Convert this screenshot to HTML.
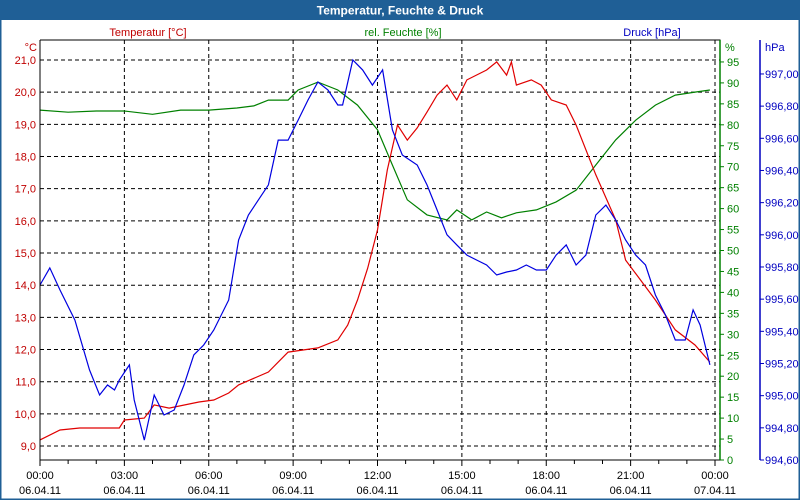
<!DOCTYPE html>
<html><head><meta charset="utf-8"><style>
body{margin:0;background:#fff;}
svg{display:block;font-family:"Liberation Sans","DejaVu Sans",sans-serif;}
</style></head><body>
<svg id="c" width="800" height="500">
<rect x="0" y="0" width="800" height="500" fill="#fff"/>
<rect x="0.5" y="0.5" width="799" height="499" fill="none" stroke="#1f5f96" stroke-width="2"/>
<rect x="0" y="0" width="800" height="20" fill="#1f5f96"/>
<text x="400" y="14.5" text-anchor="middle" fill="#fff" font-size="12" font-weight="bold">Temperatur, Feuchte &amp; Druck</text>
<text x="148" y="36" text-anchor="middle" fill="#c00000" font-size="11">Temperatur [°C]</text>
<text x="403" y="36" text-anchor="middle" fill="#008000" font-size="11">rel. Feuchte [%]</text>
<text x="652" y="36" text-anchor="middle" fill="#0000c0" font-size="11">Druck [hPa]</text>
<text x="37" y="51" text-anchor="end" fill="#c00000" font-size="11">°C</text>
<text x="725" y="51" fill="#008000" font-size="11">%</text>
<text x="765" y="51" fill="#0000c0" font-size="11">hPa</text>
<g id="grid"></g><g id="series"></g><g id="axes"></g>
</svg>
<script>
const xTickHours=[0,3,6,9,12,15,18,21,24];
const xTickTimes=["00:00","03:00","06:00","09:00","12:00","15:00","18:00","21:00","00:00"];
const xTickDates=["06.04.11","06.04.11","06.04.11","06.04.11","06.04.11","06.04.11","06.04.11","06.04.11","07.04.11"];
const tempTicks=[9,10,11,12,13,14,15,16,17,18,19,20,21];
const humTicks=[0,5,10,15,20,25,30,35,40,45,50,55,60,65,70,75,80,85,90,95];
const pressTicks=[994.6,994.8,995.0,995.2,995.4,995.6,995.8,996.0,996.2,996.4,996.6,996.8,997.0];
const tempHours=[0,0.71,1.41,2.82,3.0,3.71,4.06,4.59,5.65,6.18,6.71,7.06,8.12,8.82,9.88,10.59,10.94,11.29,11.65,12.0,12.35,12.71,13.06,13.41,13.76,14.12,14.47,14.82,15.18,15.88,16.24,16.59,16.76,16.94,17.47,17.82,18.18,18.71,19.06,19.76,20.47,20.82,21.35,21.88,22.59,23.29,23.82];
const tempValues=[9.19,9.5,9.56,9.56,9.81,9.87,10.28,10.18,10.37,10.43,10.65,10.9,11.3,11.92,12.05,12.3,12.76,13.54,14.53,15.72,17.58,18.98,18.51,18.89,19.38,19.91,20.22,19.76,20.38,20.69,20.94,20.53,20.94,20.22,20.38,20.22,19.76,19.6,18.98,17.43,16.03,14.78,14.16,13.54,12.61,12.14,11.61];
const humHours=[0,1,2,3,4,5,6,7,7.6,8.12,8.82,9.18,9.88,10.59,11.29,12.0,12.53,13.06,13.76,14.47,14.82,15.35,15.88,16.41,16.94,17.65,18.35,19.06,19.76,20.47,21.18,21.88,22.59,23.29,23.82];
const humValues=[83.5,83,83.3,83.3,82.5,83.5,83.5,84,84.5,85.9,85.9,88.3,90.2,88.3,84.7,78.8,70.4,62.1,58.5,57.3,59.7,57.3,59.2,57.8,59,59.7,61.6,64.4,70.4,76.4,81.1,84.7,87.1,87.8,88.3];
const pressHours=[0,0.35,0.71,1.24,1.76,2.12,2.4,2.65,2.82,3.18,3.35,3.71,4.06,4.41,4.77,5.12,5.47,5.82,6.18,6.71,7.06,7.41,7.76,8.12,8.47,8.82,9.18,9.53,9.88,10.24,10.59,10.76,11.12,11.47,11.82,12.18,12.53,12.88,13.41,13.76,14.12,14.47,14.82,15.18,15.53,15.88,16.24,16.59,16.94,17.29,17.65,18.0,18.35,18.71,19.06,19.41,19.76,20.12,20.47,20.82,21.18,21.53,21.88,22.24,22.59,22.94,23.22,23.47,23.82];
const pressValues=[995.688,995.794,995.657,995.47,995.16,995.004,995.066,995.035,995.097,995.191,994.973,994.724,995.004,994.88,994.911,995.066,995.253,995.315,995.408,995.595,995.968,996.123,996.216,996.31,996.589,996.589,996.714,996.838,996.95,996.9,996.807,996.807,997.087,997.025,996.931,997.025,996.652,996.496,996.434,996.31,996.154,996.0,995.937,995.874,995.843,995.812,995.75,995.769,995.781,995.812,995.781,995.781,995.874,995.937,995.812,995.874,996.123,996.185,996.092,995.968,995.874,995.812,995.626,995.501,995.346,995.346,995.533,995.439,995.191];

const L=40,R=720,T=40,B=460;
const xS=h=>40+h*(675/24);
const tS=v=>60+(21-v)*32.17;
const hS=v=>460-v*4.19;
const pS=v=>460-(v-994.6)*160.85;
const NS="http://www.w3.org/2000/svg";
function mk(tag,attrs,parent,txt){const e=document.createElementNS(NS,tag);for(const k in attrs)e.setAttribute(k,attrs[k]);if(txt!==undefined)e.textContent=txt;parent.appendChild(e);return e;}
const grid=document.getElementById('grid'),series=document.getElementById('series'),axes=document.getElementById('axes');
const fmt=(v,d)=>v.toFixed(d).replace('.',',');

xTickHours.forEach((h,i)=>{
  const x=xS(h);
  if(h>0){const g=mk('line',{x1:x,y1:T,x2:x,y2:B,stroke:'#000','stroke-dasharray':'4,3'},grid);
  
  }
  const t1=mk('text',{x:x,y:479,'text-anchor':'middle','font-size':11,fill:'#000'},axes,xTickTimes[i]);
  
  
  const t2=mk('text',{x:x,y:494,'text-anchor':'middle','font-size':11,fill:'#000'},axes,xTickDates[i]);
  
  
});
for(let h=0;h<=24;h++){const x=xS(h);const tk=mk('line',{x1:x,y1:B,x2:x,y2:B+(h%3==0?6:4),stroke:'#000'},axes);
  
  }
tempTicks.forEach(v=>{
  const y=tS(v);
  const g=mk('line',{x1:L,y1:y,x2:R,y2:y,stroke:'#000','stroke-dasharray':'4,3'},grid);
  
  
  const t=mk('text',{x:36,y:y+4,'text-anchor':'end','font-size':11,fill:'#c00000'},axes,fmt(v,1));
  
  
});
humTicks.forEach(v=>{
  const y=hS(v);
  const tk=mk('line',{x1:R,y1:y,x2:R+4,y2:y,stroke:'#008000'},axes);
  
  
  const t=mk('text',{x:R+7,y:y+4,'font-size':11,fill:'#008000'},axes,String(v));
  
  
});
pressTicks.forEach(v=>{
  const y=pS(v);
  const tk=mk('line',{x1:760,y1:y,x2:764,y2:y,stroke:'#0000c0'},axes);
  
  
  const t=mk('text',{x:765,y:y+4,'font-size':11,fill:'#0000c0'},axes,fmt(v,2));
  
  
});
function line(hours,vals,sc,color,name){
  const d=hours.map((h,i)=>(i?'L':'M')+xS(h).toFixed(1)+','+sc(vals[i]).toFixed(1)).join('');
  const p=mk('path',{d:d,fill:'none',stroke:color,'stroke-width':1.2},series);
  
  
}
line(humHours,humValues,hS,'#008000','humidity-line');
line(tempHours,tempValues,tS,'#e00000','temperature-line');
line(pressHours,pressValues,pS,'#0000e0','pressure-line');
const a1=mk('polyline',{points:`${L},${T} ${L},${B} ${R},${B} ${R},${T} ${L},${T}`,fill:'none',stroke:'#000'},axes);


const a2=mk('line',{x1:R,y1:T,x2:R,y2:B,stroke:'#008000','stroke-width':1.5},axes);


const a3=mk('line',{x1:760,y1:T,x2:760,y2:B,stroke:'#0000c0','stroke-width':1.5},axes);


</script>
</body></html>
